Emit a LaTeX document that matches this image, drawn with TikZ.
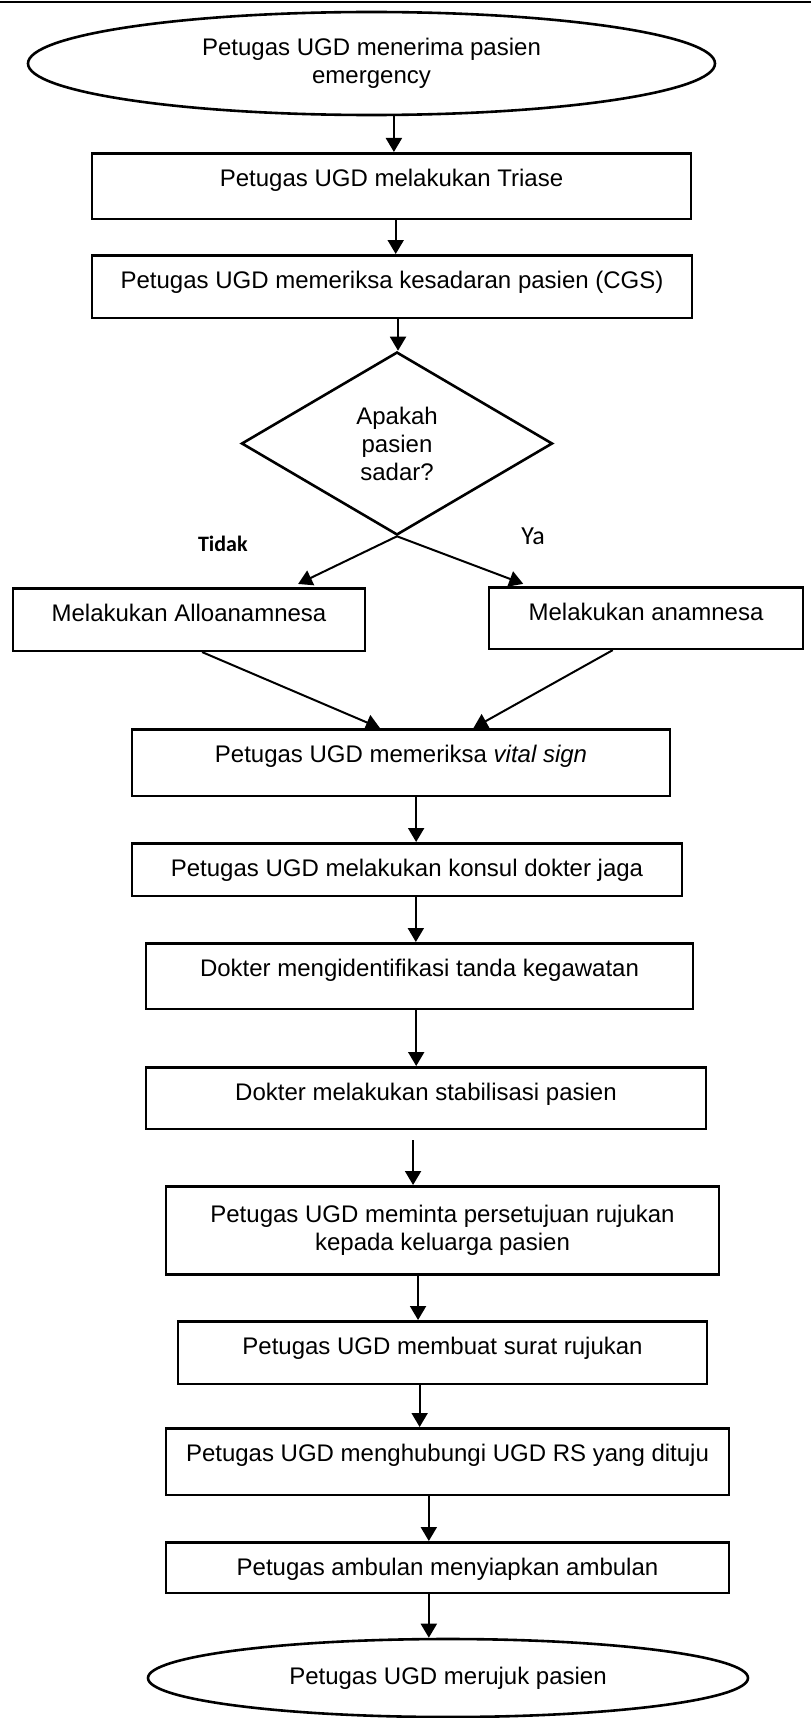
\documentclass[tikz,border=0pt]{standalone}
\usepackage{fontspec}
\setmainfont{Liberation Sans}
\newfontfamily\labelfont{Carlito}
\usepackage{tikz}
\usetikzlibrary{calc}
\usetikzlibrary{positioning}
\usetikzlibrary{shapes.geometric}
\usetikzlibrary{arrows.meta}

\begin{document}
\begin{tikzpicture}[x=0.5pt,y=-0.5pt,font=\fontsize{12}{14}\selectfont,
proses/.style={draw,line width=1.3pt,inner sep=0pt,text height=16.75pt,anchor=north},
terminal/.style={draw,ellipse,line width=1.3pt,inner sep=0pt,align=center},
panah/.style={line width=1pt,-{Triangle[length=7pt,width=8pt]}}]

\useasboundingbox (0,0) rectangle (811,1718);
\draw[line width=1.3pt] (0,2) -- (811,2);

\node[terminal,minimum width=343.5pt,minimum height=51.5pt] (mulai) at (371.5,63.5) {Petugas UGD menerima pasien\\emergency};
\node[proses,minimum width=299.5pt,text depth=16pt] (triase) at (391.5,152) {Petugas UGD melakukan Triase};
\node[proses,minimum width=300pt,text depth=14.5pt] (cgs) at (392,254) {Petugas UGD memeriksa kesadaran pasien (CGS)};
\node[draw,diamond,line width=1.3pt,inner sep=0pt,minimum width=155.5pt,minimum height=91.5pt,align=center] (sadar) at (397,443.5) {Apakah\\pasien\\sadar?};

\node[left=74.5pt of sadar.south,yshift=-4pt,inner sep=0pt,font=\labelfont\bfseries\fontsize{11}{13}\selectfont] (tidak) {Tidak};
\node[right=62pt of sadar.south,inner sep=0pt,font=\labelfont\fontsize{13}{15}\selectfont] (ya) {Ya};

\node[proses,minimum width=176pt,text depth=14.5pt] (allo) at (189,587) {Melakukan Alloanamnesa};
\node[proses,minimum width=157pt,text depth=14pt] (ana) at (646,586) {Melakukan anamnesa};
\node[proses,minimum width=269pt,text depth=16.5pt] (vital) at (401,728) {Petugas UGD memeriksa \textit{vital sign}};
\node[proses,minimum width=275pt,text depth=9.5pt] (konsul) at (407,842) {Petugas UGD melakukan konsul dokter jaga};
\node[proses,minimum width=273.5pt,text depth=16pt] (tanda) at (419.5,942) {Dokter mengidentifikasi tanda kegawatan};
\node[proses,minimum width=280pt,text depth=14pt] (stabil) at (426,1066) {Dokter melakukan stabilisasi pasien};
\node[draw,line width=1.3pt,inner sep=0pt,align=center,minimum width=276.5pt,minimum height=44pt,anchor=north] (setuju) at (442.5,1185) {Petugas UGD meminta persetujuan rujukan\\kepada keluarga pasien};
\node[proses,minimum width=264.5pt,text depth=14.5pt] (surat) at (442.5,1320) {Petugas UGD membuat surat rujukan};
\node[proses,minimum width=281.5pt,text depth=16.5pt] (hubungi) at (447.5,1427) {Petugas UGD menghubungi UGD RS yang dituju};
\node[proses,minimum width=281.5pt,text depth=8.5pt] (ambulan) at (447.5,1541) {Petugas ambulan menyiapkan ambulan};
\node[terminal,minimum width=300pt,minimum height=39pt] (rujuk) at (448,1678) {Petugas UGD merujuk pasien};

% bagian atas
\coordinate (a1) at ($(triase.north west)!0.504!(triase.north east)$);
\draw[panah] (a1 |- mulai.south) -- (a1);
\coordinate (a2) at ($(triase.south west)!0.507!(triase.south east)$);
\draw[panah] (a2) -- (a2 |- cgs.north);
\coordinate (a3) at ($(cgs.south west)!0.51!(cgs.south east)$);
\draw[panah] (a3) -- (a3 |- sadar.north);

% cabang tidak / ya
\draw[panah,shorten >=3.5pt] (sadar.south) -- ($(allo.north west)!0.79!(allo.north east)$);
\draw[panah,shorten >=3pt] (sadar.south) -- ($(ana.north west)!0.13!(ana.north east)$);
\draw[panah] ($(allo.south west)!0.537!(allo.south east)$) -- ($(vital.north west)!0.461!(vital.north east)$);
\draw[panah] ($(ana.south west)!0.395!(ana.south east)$) -- ($(vital.north west)!0.634!(vital.north east)$);

% bagian bawah
\coordinate (b1) at ($(vital.south west)!0.528!(vital.south east)$);
\draw[panah] (b1) -- (b1 |- konsul.north);
\coordinate (b2) at ($(konsul.south west)!0.516!(konsul.south east)$);
\draw[panah] (b2) -- (b2 |- tanda.north);
\coordinate (b3) at ($(tanda.south west)!0.494!(tanda.south east)$);
\draw[panah] (b3) -- (b3 |- stabil.north);
\coordinate (b4) at ($(stabil.south west)!0.477!(stabil.south east)$);
\draw[panah,shorten <=5pt] (b4) -- (b4 |- setuju.north);
\coordinate (b5) at ($(setuju.south west)!0.456!(setuju.south east)$);
\draw[panah] (b5) -- (b5 |- surat.north);
\coordinate (b6) at ($(surat.south west)!0.457!(surat.south east)$);
\draw[panah] (b6) -- (b6 |- hubungi.north);
\coordinate (b7) at ($(hubungi.south west)!0.467!(hubungi.south east)$);
\draw[panah] (b7) -- (b7 |- ambulan.north);
\coordinate (b8) at ($(ambulan.south west)!0.467!(ambulan.south east)$);
\draw[panah] (b8) -- (b8 |- rujuk.north);
\end{tikzpicture}
\end{document}
